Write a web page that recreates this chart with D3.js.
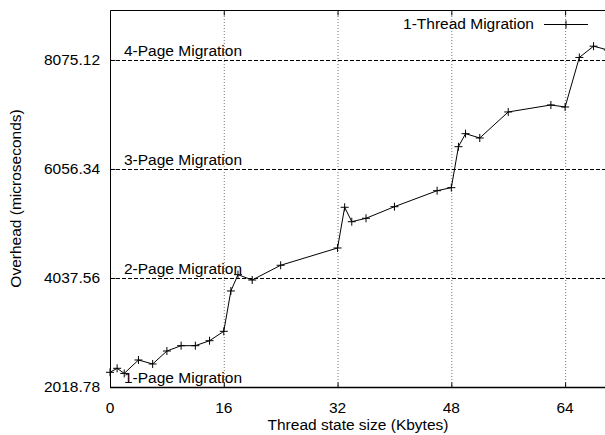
<!DOCTYPE html>
<html>
<head>
<meta charset="utf-8">
<script src="https://cdn.jsdelivr.net/npm/d3@7"></script>
<style>
  body { margin: 0; background: #fff; }
  svg text { font-family: "Liberation Sans", Arial, sans-serif; font-size: 15.5px; fill: #000; }
</style>
</head>
<body>
<svg width="605" height="435"></svg>
<script>
'use strict';

/* thread state size (Kbytes) */
var sizes = [0, 1, 2, 4, 6, 8, 10, 12, 14, 16, 17, 18, 20, 24, 32, 33, 34, 36, 40,
             46, 48, 49, 50, 52, 56, 62, 64, 66, 68, 70];
/* overhead (microseconds) for 1-thread migration */
var overhead = [2291, 2365, 2270, 2519, 2445, 2685, 2784, 2784, 2876, 3050, 3797, 4099,
                4000, 4273, 4593, 5347, 5080, 5143, 5358, 5654, 5710, 6469, 6710, 6630,
                7112, 7241, 7204, 8121, 8330, 8260];
/* reference lines: cost of N-page migrations */
var pageLevels = [2018.78, 4037.56, 6056.34, 8075.12];
var pageLabels = ['1-Page Migration', '2-Page Migration', '3-Page Migration', '4-Page Migration'];
var xTicks = [0, 16, 32, 48, 64];
var seriesName = '1-Thread Migration';

var svg = d3.select('svg');
var pLeft = 110, pTop = 10, pBottom = 387, pRight = 622;

var x = d3.scaleLinear().domain([0, 72]).range([pLeft, pRight]);
var y = d3.scaleLinear().domain([2018.78, 9000]).range([pBottom, pTop]);

/* grid: vertical dotted lines */
svg.append('g').selectAll('line')
  .data(xTicks.filter(function(d){ return d > 0; }))
  .enter().append('line')
    .attr('x1', function(d){ return x(d) + 0.5; })
    .attr('x2', function(d){ return x(d) + 0.5; })
    .attr('y1', pTop).attr('y2', pBottom)
    .attr('stroke', '#777').attr('stroke-dasharray', '1,2');

/* reference lines with labels */
var ref = svg.append('g');
ref.selectAll('line')
  .data(pageLevels)
  .enter().append('line')
    .attr('x1', pLeft).attr('x2', 605)
    .attr('y1', function(d){ return Math.round(y(d)) + 0.5; })
    .attr('y2', function(d){ return Math.round(y(d)) + 0.5; })
    .attr('stroke', '#000').attr('stroke-dasharray', '4,2');
ref.selectAll('text')
  .data(pageLevels)
  .enter().append('text')
    .attr('x', 124)
    .attr('y', function(d){ return y(d) - 4; })
    .text(function(d, i){ return pageLabels[i]; });

/* frame */
svg.append('path')
  .attr('d', 'M' + (pLeft + 0.5) + ',' + (pBottom + 0.5) + 'V' + (pTop + 0.5) + 'H605')
  .attr('fill', 'none').attr('stroke', '#000');
svg.append('line')
  .attr('x1', pLeft).attr('x2', 605)
  .attr('y1', pBottom + 0.5).attr('y2', pBottom + 0.5)
  .attr('stroke', '#000').attr('stroke-width', 1.5);

/* axes: ticks pointing inward */
svg.append('g').attr('transform', 'translate(0,' + (pBottom + 0.5) + ')')
  .call(d3.axisTop(x).tickValues(xTicks).tickSize(5).tickFormat(''))
  .call(function(g){ g.select('.domain').remove(); });
svg.append('g').attr('transform', 'translate(0,' + (pTop + 0.5) + ')')
  .call(d3.axisBottom(x).tickValues(xTicks).tickSize(5).tickFormat(''))
  .call(function(g){ g.select('.domain').remove(); });
svg.append('g').attr('transform', 'translate(' + (pLeft + 0.5) + ',0)')
  .call(d3.axisRight(y).tickValues(pageLevels).tickSize(5).tickFormat(''))
  .call(function(g){ g.select('.domain').remove(); });

/* tick labels */
svg.append('g').selectAll('text')
  .data(xTicks)
  .enter().append('text')
    .attr('x', function(d){ return x(d); })
    .attr('y', 413)
    .attr('text-anchor', 'middle')
    .text(function(d){ return d; });
svg.append('g').selectAll('text')
  .data(pageLevels)
  .enter().append('text')
    .attr('x', 100)
    .attr('y', function(d){ return y(d) + 5; })
    .attr('text-anchor', 'end')
    .text(function(d){ return d.toFixed(2); });

/* axis titles */
svg.append('text')
  .attr('x', 358).attr('y', 430)
  .attr('text-anchor', 'middle')
  .text('Thread state size (Kbytes)');
svg.append('text')
  .attr('transform', 'translate(21,' + ((pTop + pBottom) / 2) + ') rotate(-90)')
  .attr('text-anchor', 'middle')
  .text('Overhead (microseconds)');

/* the series */
var pts = sizes.map(function(d, i){ return [d, overhead[i]]; });
var line = d3.line()
  .x(function(d){ return x(d[0]); })
  .y(function(d){ return y(d[1]); });
svg.append('path')
  .datum(pts)
  .attr('d', line)
  .attr('fill', 'none').attr('stroke', '#000');

function plus(px, py){
  return 'M' + (px - 4) + ',' + py + 'H' + (px + 4) + 'M' + px + ',' + (py - 4) + 'V' + (py + 4);
}
svg.append('g').selectAll('path')
  .data(pts)
  .enter().append('path')
    .attr('d', function(d){ return plus(x(d[0]), y(d[1])); })
    .attr('stroke', '#000');

/* legend */
svg.append('text')
  .attr('x', 534).attr('y', 29)
  .attr('text-anchor', 'end')
  .text(seriesName);
svg.append('line')
  .attr('x1', 544).attr('x2', 588)
  .attr('y1', 24.5).attr('y2', 24.5)
  .attr('stroke', '#000');
svg.append('path')
  .attr('d', plus(566, 24.5))
  .attr('stroke', '#000');
</script>
</body>
</html>
